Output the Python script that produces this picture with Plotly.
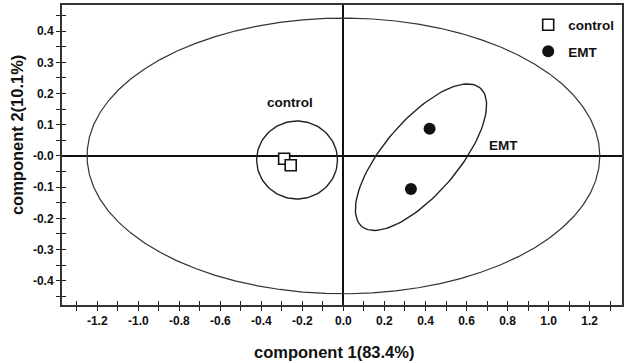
import numpy as np
import plotly.graph_objects as go

# ---- data ----
control_x = [-0.289, -0.257]
control_y = [-0.009, -0.030]
emt_x = [0.420, 0.329]
emt_y = [0.087, -0.106]

# ellipses: center, conjugate semi-diameters (data units)
big_center = [0.0, 0.0]
big_axes = [[1.25, 0.0], [0.0, 0.442]]
ctrl_center = [-0.226, -0.013]
ctrl_axes = [[0.197, 0.0], [0.0, 0.125]]
emt_center = [0.378, -0.004]
emt_axes = [[0.289, 0.222], [0.137, -0.077]]

x_tickvals = [-1.2, -1.0, -0.8, -0.6, -0.4, -0.2, 0.0, 0.2, 0.4, 0.6, 0.8, 1.0, 1.2]
x_ticktext = ["-1.2", "-1.0", "-0.8", "-0.6", "-0.4", "-0.2", "0.0", "0.2", "0.4", "0.6", "0.8", "1.0", "1.2"]
y_tickvals = [0.4, 0.3, 0.2, 0.1, 0.0, -0.1, -0.2, -0.3, -0.4]
y_ticktext = ["0.4", "0.3", "0.2", "0.1", "-0.0", "-0.1", "-0.2", "-0.3", "-0.4"]

x_title = "component 1(83.4%)"
y_title = "component 2(10.1%)"

x_range = [-1.372, 1.358]
y_range = [-0.478, 0.484]


def ellipse(center, axes, n):
    t = np.linspace(0, 2 * np.pi, n)
    u, v = np.array(axes[0]), np.array(axes[1])
    x = center[0] + u[0] * np.cos(t) + v[0] * np.sin(t)
    y = center[1] + u[1] * np.cos(t) + v[1] * np.sin(t)
    return x, y


fig = go.Figure()
for c, a, n, col, w in [(big_center, big_axes, 70, "#333333", 1.2),
                        (ctrl_center, ctrl_axes, 120, "#222222", 1.4),
                        (emt_center, emt_axes, 120, "#222222", 1.4)]:
    ex, ey = ellipse(c, a, n)
    fig.add_trace(go.Scatter(x=ex, y=ey, mode="lines", line=dict(color=col, width=w),
                             showlegend=False, hoverinfo="skip"))

fig.add_trace(go.Scatter(x=control_x, y=control_y, mode="markers", name="control",
                         marker=dict(symbol="square", size=11, color="white",
                                     line=dict(color="#111111", width=1.6)),
                         legendgroup="a"))
fig.add_trace(go.Scatter(x=emt_x, y=emt_y, mode="markers", name="EMT",
                         marker=dict(symbol="circle", size=12, color="#111111",
                                     line=dict(color="#111111", width=0)),
                         legendgroup="b"))
# dummy trace for overlay axes (crossing ticks)
fig.add_trace(go.Scatter(x=[None], y=[None], xaxis="x2", yaxis="y2", showlegend=False))

bold = dict(family="Liberation Sans, Arial, sans-serif", color="#111111", weight="bold")

fig.add_annotation(x=-0.26, y=0.17, text="control", showarrow=False,
                   font=dict(size=13.5, **bold))
fig.add_annotation(x=0.78, y=0.035, text="EMT", showarrow=False,
                   font=dict(size=13.5, **bold))
fig.add_annotation(x=0.485, y=-0.157, xref="paper", yref="paper", text=x_title,
                   showarrow=False, yanchor="middle", font=dict(size=16.5, **bold))
fig.add_annotation(x=-0.08, y=0.567, xref="paper", yref="paper", text=y_title,
                   showarrow=False, textangle=-90, xanchor="center", yanchor="middle",
                   font=dict(size=16.5, **bold))

tick_common = dict(ticklen=4, tickwidth=1.3, tickcolor="#222222")

fig.update_layout(
    width=629, height=363,
    margin=dict(l=62, r=7, t=5, b=58),
    plot_bgcolor="white", paper_bgcolor="white",
    font=dict(family="Liberation Sans, Arial, sans-serif", color="#111111"),
    xaxis=dict(range=x_range, tickvals=x_tickvals, ticktext=x_ticktext, automargin=False,
               ticks="outside", **tick_common,
               minor=dict(dtick=0.1, tick0=0, ticks="outside", **tick_common),
               showline=True, mirror=True, linecolor="#333333", linewidth=2,
               showgrid=False, zeroline=True, zerolinecolor="#111111", zerolinewidth=1.5,
               tickfont=dict(size=12, **bold)),
    yaxis=dict(range=y_range, tickvals=y_tickvals, ticktext=y_ticktext, automargin=False,
               ticks="outside", **tick_common,
               minor=dict(dtick=0.05, tick0=0, ticks="outside", **tick_common),
               showline=True, mirror=True, linecolor="#333333", linewidth=2,
               showgrid=False, zeroline=True, zerolinecolor="#111111", zerolinewidth=1.5,
               tickfont=dict(size=12, **bold)),
    xaxis2=dict(overlaying="x", matches="x", side="bottom", anchor="y2", automargin=False,
                tickvals=x_tickvals, ticks="inside", **tick_common,
                minor=dict(dtick=0.1, tick0=0, ticks="inside", **tick_common),
                showticklabels=False, showline=False, showgrid=False, zeroline=False),
    yaxis2=dict(overlaying="y", matches="y", side="left", anchor="x2", automargin=False,
                tickvals=y_tickvals, ticks="inside", **tick_common,
                minor=dict(dtick=0.05, tick0=0, ticks="inside", **tick_common),
                showticklabels=False, showline=False, showgrid=False, zeroline=False),
    legend=dict(x=0.995, y=0.985, xanchor="right", yanchor="top",
                bgcolor="rgba(0,0,0,0)", font=dict(size=13.5, **bold),
                tracegroupgap=6),
    showlegend=True,
)

fig.write_html("out.html", config={"displayModeBar": False},
               post_script="document.body.style.margin='0';document.body.style.overflow='hidden';")
